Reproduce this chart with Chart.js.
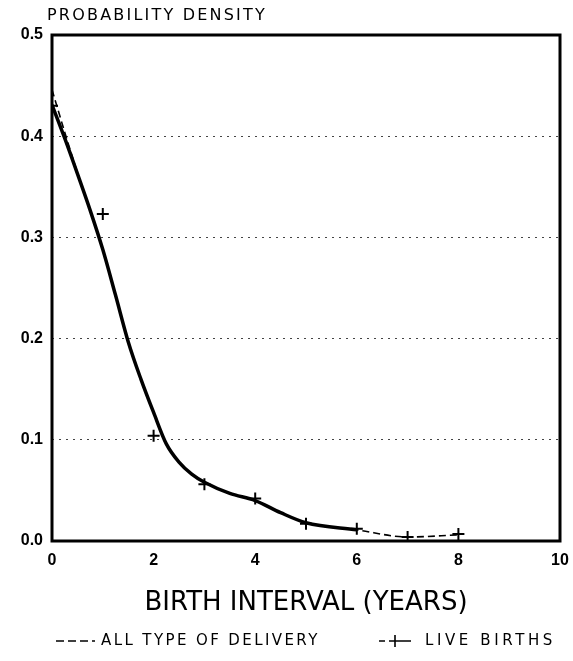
<!DOCTYPE html>
<html>
<head>
<meta charset="utf-8">
<script src="https://cdn.jsdelivr.net/npm/chart.js@4/dist/chart.umd.min.js"></script>
<style>
  html, body { margin: 0; padding: 0; background: #fff; overflow: hidden; }
  #wrap { width: 573px; height: 661px; }
  canvas { display: block; }
</style>
</head>
<body>
<div id="wrap"><canvas id="densityChart"></canvas></div>
<script>
// fitted curves
const fitX = [0, 0.25, 0.5, 0.75, 1, 1.25, 1.5, 1.75, 2, 2.25, 2.5, 2.75, 3, 3.5, 4, 4.5, 5, 6, 7, 8];
const allTypeFit = [0.446, 0.404, 0.364, 0.327, 0.288, 0.243, 0.197, 0.16, 0.127, 0.096, 0.078, 0.066, 0.058, 0.047, 0.04, 0.028, 0.018, 0.011, 0.004, 0.006];
const liveFitX = [0, 0.25, 0.5, 0.75, 1, 1.25, 1.5, 1.75, 2, 2.25, 2.5, 2.75, 3, 3.5, 4, 4.5, 5, 6];
const liveBirthsFit = [0.431, 0.398, 0.363, 0.327, 0.288, 0.243, 0.197, 0.16, 0.127, 0.096, 0.078, 0.066, 0.058, 0.047, 0.04, 0.028, 0.018, 0.011];
// observed live births (+ markers)
const obsX = [0, 1, 2, 3, 4, 5, 6, 7, 8];
const liveBirthsObs = [0.43, 0.323, 0.104, 0.056, 0.042, 0.017, 0.012, 0.004, 0.007];

const legendLabels = ['ALL TYPE OF DELIVERY', 'LIVE BIRTHS'];
const xTitle = 'BIRTH INTERVAL (YEARS)';
const yTitle = 'PROBABILITY DENSITY';

const FONT = "'Liberation Sans', Arial, sans-serif";
const WIDE = "'DejaVu Sans', Verdana, sans-serif";
Chart.defaults.color = '#000';
Chart.defaults.font.family = FONT;

const toPoints = (xs, ys) => xs.map((x, i) => ({ x: x, y: ys[i] }));

const frameBox = {
    id: 'frameBox',
    afterDatasetsDraw(chart) {
        const a = chart.chartArea, ctx = chart.ctx;
        ctx.save();
        ctx.strokeStyle = '#000';
        ctx.lineWidth = 3;
        ctx.strokeRect(a.left, a.top, a.right - a.left, a.bottom - a.top);
        ctx.restore();
    }
};

// y title on top + hand drawn legend ("---" and "-+-") under the x title
const extraText = {
    id: 'extraText',
    afterDraw(chart) {
        const ctx = chart.ctx;
        const a = chart.chartArea;
        ctx.save();
        ctx.fillStyle = '#000';
        ctx.strokeStyle = '#000';
        ctx.textAlign = 'left';
        ctx.textBaseline = 'middle';
        ctx.font = '16px ' + WIDE;
        ctx.letterSpacing = '2.2px';
        ctx.fillText(yTitle, a.left - 5, 16);

        const ly = 641;
        ctx.lineWidth = 1.6;
        ctx.setLineDash([8, 4]);
        ctx.beginPath();
        ctx.moveTo(56, ly); ctx.lineTo(95, ly);
        ctx.stroke();
        ctx.setLineDash([]);
        ctx.beginPath();
        ctx.moveTo(379, ly); ctx.lineTo(385, ly);
        ctx.moveTo(389, ly); ctx.lineTo(411, ly);
        ctx.moveTo(395, ly - 6); ctx.lineTo(395, ly + 6);
        ctx.stroke();

        ctx.font = '15px ' + WIDE;
        ctx.letterSpacing = '2.4px';
        ctx.fillText(legendLabels[0], 101, ly);
        ctx.letterSpacing = '3.6px';
        ctx.fillText(legendLabels[1], 425, ly);
        ctx.restore();
    }
};

const ctx = document.getElementById('densityChart').getContext('2d');
const chart = new Chart(ctx, {
    type: 'scatter',
    data: {
        datasets: [{
            label: legendLabels[0],
            data: toPoints(fitX, allTypeFit),
            showLine: true,
            borderColor: '#000',
            borderWidth: 1.6,
            borderDash: [7, 4],
            pointRadius: 0,
            cubicInterpolationMode: 'monotone'
        }, {
            label: legendLabels[1],
            data: toPoints(liveFitX, liveBirthsFit),
            showLine: true,
            borderColor: '#000',
            borderWidth: 3.5,
            pointRadius: 0,
            cubicInterpolationMode: 'monotone'
        }, {
            label: legendLabels[1] + ' (observed)',
            data: toPoints(obsX, liveBirthsObs),
            showLine: false,
            pointStyle: 'cross',
            pointRadius: 6,
            pointBorderWidth: 2,
            borderColor: '#000',
            backgroundColor: '#000'
        }]
    },
    options: {
        responsive: true,
        maintainAspectRatio: false,
        animation: false,
        layout: { autoPadding: false, padding: { top: 35, right: 13, left: 0, bottom: 40 } },
        scales: {
            x: {
                type: 'linear',
                min: 0, max: 10,
                afterFit: (s) => { s.height = 80; s.paddingLeft = 0; s.paddingRight = 0; },
                ticks: {
                    stepSize: 2,
                    padding: 10,
                    font: { size: 16, weight: 'bold' },
                    callback: (v) => v
                },
                grid: { display: false, drawTicks: false },
                border: { display: false },
                title: {
                    display: true,
                    text: xTitle,
                    font: { size: 26, family: WIDE },
                    padding: { top: 4, bottom: 2 }
                }
            },
            y: {
                min: 0, max: 0.5,
                afterFit: (s) => { s.width = 52; },
                ticks: {
                    stepSize: 0.1,
                    padding: 9,
                    font: { size: 16, weight: 'bold' },
                    callback: (v) => Number(v).toFixed(1)
                },
                grid: {
                    drawTicks: false,
                    lineWidth: 1,
                    color: (c) => (c.tick && (c.tick.value <= 0.001 || c.tick.value >= 0.499)) ? 'rgba(0,0,0,0)' : '#444'
                },
                border: { display: false, dash: [2, 5] }
            }
        },
        plugins: {
            legend: { display: false },
            tooltip: { enabled: false }
        }
    },
    plugins: [frameBox, extraText]
});
</script>
</body>
</html>
